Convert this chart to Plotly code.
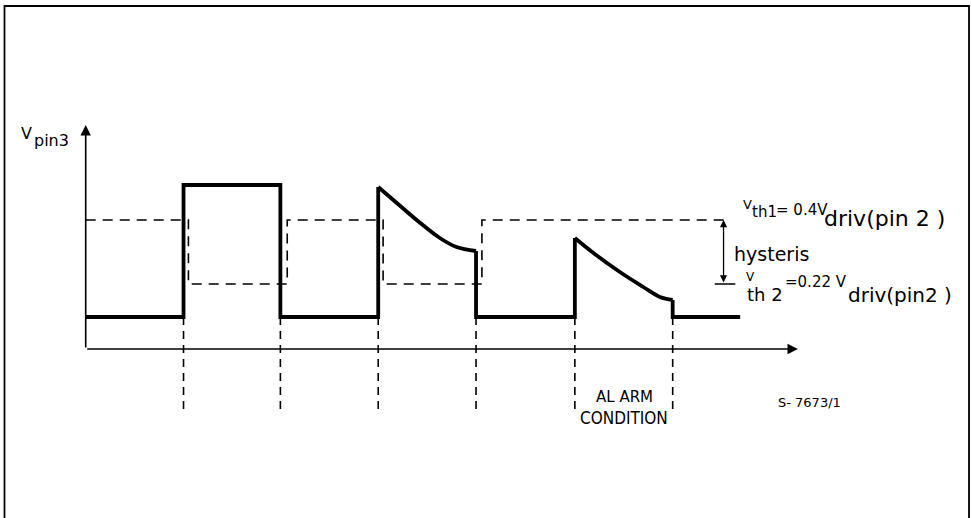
import plotly.graph_objects as go

# pin 3 voltage (time in comparator periods, voltage in arbitrary units)
step_t = [0, 1.0, 1.0, 1.99, 1.99, 2.99, 2.99, None, 3.99, 3.99, 5.0, 5.0, None, 6.0, 6.0, 6.69]
step_v = [0.32, 0.32, 1.64, 1.64, 0.32, 0.32, 1.62, None, 0.98, 0.32, 0.32, 1.11, None, 0.49, 0.32, 0.32]

# discharge curves
decay2_t = [2.99, 3.18, 3.42, 3.62, 3.79, 3.99]
decay2_v = [1.62, 1.46, 1.26, 1.11, 1.02, 0.98]
decay3_t = [5.0, 5.19, 5.46, 5.70, 5.87, 6.0]
decay3_v = [1.11, 0.96, 0.77, 0.62, 0.52, 0.49]

# comparator threshold (dashed)
cmp_t = [0, 1.05, 1.05, 2.06, 2.06, 3.04, 3.04, 4.05, 4.05, 6.59]
cmp_v = [1.29, 1.29, 0.65, 0.65, 1.29, 1.29, 0.65, 0.65, 1.29, 1.29]

vth1 = 1.29
vth2 = 0.65
v_low = 0.32
edges = [1.0, 1.99, 2.99, 3.99, 5.0, 6.0]
drop_bottom = -0.61
t_axis_end = 7.28
v_axis_end = 2.24
t_hyst = 6.52
hyst_tick = [6.43, 6.64]

W, H = 972, 518
T0, TSCALE = 85.7, 97.83   # px of t=0, px per period
V0, VSCALE = 349, 100      # px of v=0, px per unit

fig = go.Figure()

drop_t, drop_v = [], []
for e in edges:
    drop_t += [e, e, None]
    drop_v += [v_low, drop_bottom, None]
fig.add_trace(go.Scatter(x=drop_t, y=drop_v, mode='lines',
                         line=dict(color='black', width=1.6, dash='8px,6px')))

fig.add_trace(go.Scatter(x=cmp_t, y=cmp_v, mode='lines',
                         line=dict(color='black', width=1.6, dash='10px,7px')))

fig.add_trace(go.Scatter(x=hyst_tick, y=[vth2, vth2], mode='lines',
                         line=dict(color='black', width=1.5)))

fig.add_trace(go.Scatter(x=step_t, y=step_v, mode='lines',
                         line=dict(color='black', width=3.8)))
for dt, dv in [(decay2_t, decay2_v), (decay3_t, decay3_v)]:
    fig.add_trace(go.Scatter(x=dt, y=dv, mode='lines',
                             line=dict(color='black', width=3.8, shape='spline')))

arrows = [
    dict(x=t_axis_end, y=0, ax=0, ay=0, arrowside='end', arrowwidth=1.6, arrowsize=1.3),
    dict(x=0, y=v_axis_end, ax=0, ay=0, arrowside='end', arrowwidth=1.6, arrowsize=1.3),
    dict(x=t_hyst, y=vth1, ax=t_hyst, ay=vth2, arrowside='end+start', arrowwidth=1.3, arrowsize=1.1),
]
for a in arrows:
    fig.add_annotation(text='', showarrow=True, xref='x', yref='y', axref='x', ayref='y',
                       arrowhead=2, arrowcolor='black', standoff=0, startstandoff=0, **a)

FONT = 'DejaVu Sans'
NARROW = 'Liberation Sans Narrow, DejaVu Sans Condensed, DejaVu Sans'
labels = [
    # text, left px, centre px, size, anchor, font
    ('V', 20, 134, 16, 'left', FONT),
    ('pin3', 33, 140, 16, 'left', FONT),
    ('V', 742, 204, 13, 'left', FONT),
    ('th1', 751, 212, 15, 'left', FONT),
    ('= 0.4V', 775, 209.6, 15, 'left', FONT),
    ('driv(pin 2 )', 823, 219, 22, 'left', FONT),
    ('hysteris', 733, 254, 19, 'left', FONT),
    ('V', 745, 277, 12, 'left', FONT),
    ('th 2', 746, 294, 18, 'left', FONT),
    ('=0.22 V', 784, 281.6, 15, 'left', FONT),
    ('driv(pin2 )', 847, 295, 20, 'left', FONT),
    ('AL ARM', 624.5, 396.6, 15, 'center', FONT),
    ('CONDITION', 624, 417.5, 17, 'center', NARROW),
    ('S- 7673/1', 777, 402.3, 13, 'left', FONT),
]
for text, xp, yp, size, anchor, fam in labels:
    fig.add_annotation(text=text, x=xp / W, y=1 - yp / H, xref='paper', yref='paper',
                       xanchor=anchor, yanchor='middle', showarrow=False,
                       font=dict(family=fam, size=size, color='black'), borderpad=0)

# outer frame of the figure
fig.add_shape(type='rect', xref='paper', yref='paper', x0=4.5 / W, x1=969 / W,
              y0=-0.2, y1=1 - 6 / H, line=dict(color='black', width=1.8))

fig.update_xaxes(range=[-T0 / TSCALE, (W - T0) / TSCALE], visible=False)
fig.update_yaxes(range=[(V0 - H) / VSCALE, V0 / VSCALE], visible=False)
fig.update_layout(width=W, height=H, margin=dict(l=0, r=0, t=0, b=0),
                  plot_bgcolor='white', paper_bgcolor='white',
                  showlegend=False, hovermode=False)

# page body has an 8px default margin; drop it so the figure fills the window
fig.write_html('out.html', config={'displayModeBar': False},
               post_script="document.body.style.margin='0px';")
